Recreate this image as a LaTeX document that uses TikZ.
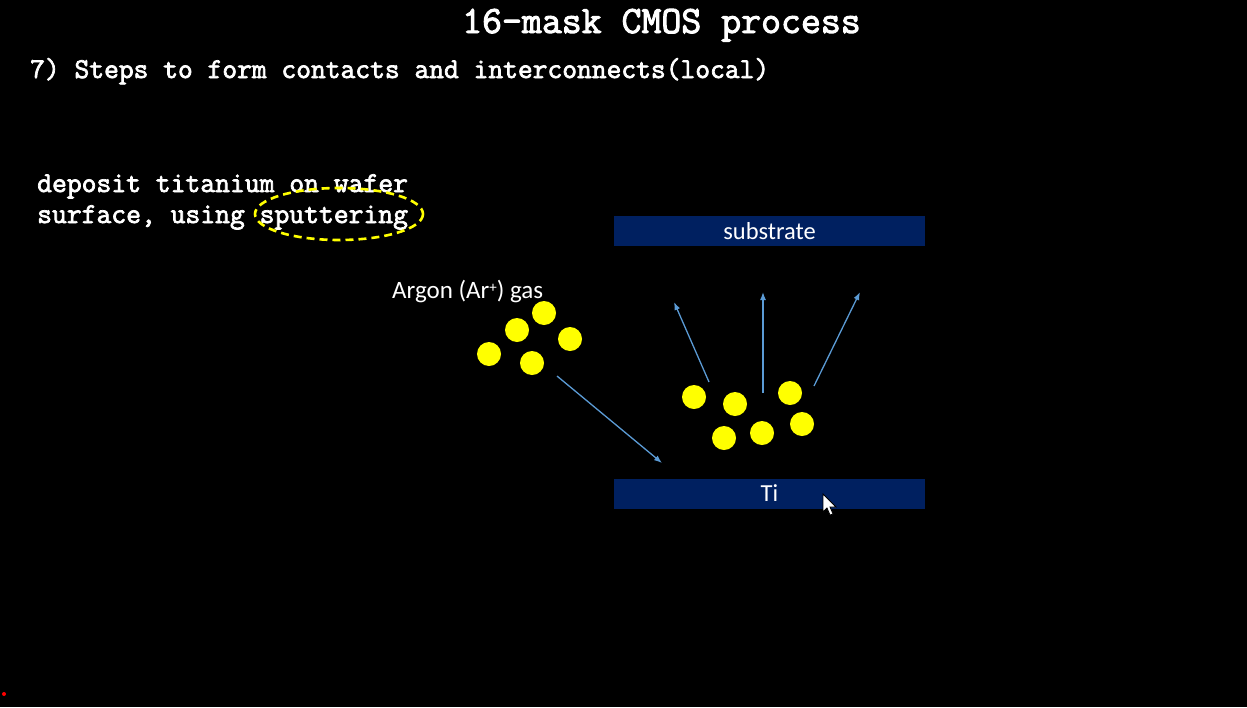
\documentclass[tikz,border=0pt]{standalone}
\usepackage{fontspec}
\setmainfont{Liberation Sans}
\newfontfamily\courb{Latin Modern Mono}[FakeBold=2.5]
\newfontfamily\cali{Carlito}
\definecolor{navy}{RGB}{0,32,96}
\definecolor{arr}{RGB}{91,155,213}
\definecolor{yel}{RGB}{255,255,0}
\usetikzlibrary{arrows.meta}
\begin{document}
\begin{tikzpicture}[x=1pt,y=-1pt,
  atom/.style={circle,fill=yel,draw=none,minimum size=24pt,inner sep=0pt},
  plate/.style={rectangle,fill=navy,draw=none,minimum width=311pt,minimum height=30pt,inner sep=0pt,text=white,font=\cali\fontsize{24.5}{24.5}\selectfont},
  flow/.style={draw=arr,line width=1.3pt,-{Latex[length=8pt,width=6pt]}},
  mono/.style={text=white,inner sep=0pt,anchor=base west}]
\fill[black] (0,0) rectangle (1247,707);
\useasboundingbox (0,0) rectangle (1247,707);
% titles
\node[mono] (title) at (462,33) {\courb\fontsize{38.7}{38.7}\selectfont 16-mask CMOS process};
\node[mono] (step) at (30,78) {\courb\fontsize{28.7}{28.7}\selectfont 7) Steps to form contacts and interconnects(local)};
\node[mono] (dep1) at (37,192) {\courb\fontsize{28.8}{28.8}\selectfont deposit titanium on wafer};
\node[mono] (dep2) at (37,223) {\courb\fontsize{28.8}{28.8}\selectfont surface, using sputtering};
\draw[yel,line width=2.6pt,dash pattern=on 8pt off 5pt] (339,214) ellipse [x radius=84, y radius=26];
% plates
\node[plate] (sub) at (769.5,231) {substrate};
\node[plate] (ti) at (769.5,493.5) {Ti};
% argon
\node[text=white,inner sep=0pt,anchor=base west,font=\cali\fontsize{25}{25}\selectfont] (argon) at (392,298) {Argon (Ar{\fontsize{15}{15}\selectfont\raisebox{6pt}{+}}) gas};
\node[atom] (a1) at (489,354) {};
\node[atom] (a2) at (517,330) {};
\node[atom] (a3) at (544,313) {};
\node[atom] (a4) at (570,339) {};
\node[atom] (a5) at (532,363) {};
% Ti atoms
\node[atom] (t1) at (694,397) {};
\node[atom] (t2) at (735,404) {};
\node[atom] (t3) at (790,393) {};
\node[atom] (t4) at (724,438) {};
\node[atom] (t5) at (762,433) {};
\node[atom] (t6) at (802,424) {};
% arrows
\coordinate (ain) at (557,376);
\coordinate (aend) at (662,463);
\draw[flow] (ain) -- (aend);
\coordinate (l0) at (709,382); \coordinate (l1) at (674,302);
\coordinate (m0) at (763,393); \coordinate (m1) at (763,292);
\coordinate (r0) at (814,386); \coordinate (r1) at (860,292);
\draw[flow] (l0) -- (l1);
\draw[flow] (m0) -- (m1);
\draw[flow] (r0) -- (r1);
% cursor and dot
\draw[fill=white,draw=black,line width=0.8pt] (823,494) -- (823,512) -- (827,508) -- (830,515) -- (833,514) -- (830,507) -- (836,507) -- cycle;
\fill[red] (4,694) circle (2);
\end{tikzpicture}
\end{document}
